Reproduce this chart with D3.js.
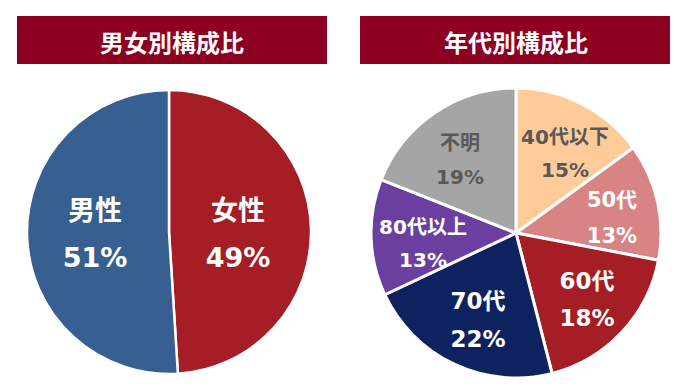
<!DOCTYPE html>
<html><head><meta charset="utf-8">
<script src="https://cdn.jsdelivr.net/npm/d3@7"></script>
<style>html,body{margin:0;padding:0;background:#fff;}svg{display:block;}</style>
</head><body>
<svg id="c" width="692" height="392"></svg>
<script>
const titles = ["男女別構成比", "年代別構成比"];
const genderCats = ["女性", "男性"];
const genderVals = [49, 51];
const genderColors = ["#A51D25", "#385F91"];
const genderText = ["#ffffff", "#ffffff"];
const ageCats = ["40代以下", "50代", "60代", "70代", "80代以上", "不明"];
const ageVals = [15, 13, 18, 22, 13, 19];
const ageColors = ["#FFCC99", "#D98484", "#A51D25", "#0F2260", "#6B3FA0", "#A5A5A5"];
const ageText = ["#595959", "#ffffff", "#ffffff", "#ffffff", "#ffffff", "#595959"];

const svg = d3.select("#c");
const FONT = "'DejaVu Sans','Noto Sans CJK JP',sans-serif";

// banners
const banners = [{x:17, w:310, cx:172}, {x:360, w:310, cx:516}];
banners.forEach((b,i)=>{
  svg.append("rect").attr("x",b.x).attr("y",16).attr("width",b.w).attr("height",48).attr("fill","#8C0021");
  svg.append("text").attr("x",b.cx).attr("y",41).attr("text-anchor","middle").attr("dominant-baseline","central")
    .attr("fill","#fff").attr("font-family","'Noto Sans CJK JP',sans-serif").attr("font-weight","bold")
    .attr("font-size",24).text(titles[i]);
});

function drawPie(cx, cy, r, cats, vals, colors, textColors, labels, strokeW){
  const pie = d3.pie().sort(null).value(d=>d)(vals);
  const arc = d3.arc().innerRadius(0).outerRadius(r);
  const g = svg.append("g").attr("transform",`translate(${cx},${cy})`);
  g.selectAll("path").data(pie).join("path").attr("d",arc)
    .attr("fill",(d,i)=>colors[i]).attr("stroke","#fff").attr("stroke-width",strokeW).attr("stroke-linejoin","round");
  pie.forEach((d,i)=>{
    const L = labels[i];
    const t = g.append("text").attr("text-anchor","middle").attr("fill",textColors[i])
      .attr("font-family",FONT).attr("font-weight","bold").attr("font-size",L.fs);
    t.append("tspan").attr("x",L.x).attr("y",L.y1).attr("dominant-baseline","central").text(cats[i]);
    t.append("tspan").attr("x",L.x).attr("y",L.y2).attr("dominant-baseline","central").text(vals[i]+"%");
  });
}

drawPie(169, 232, 142, genderCats, genderVals, genderColors, genderText,
  [{x:69, y1:-22, y2:25, fs:27}, {x:-74, y1:-22, y2:25, fs:27}], 2.5);

drawPie(516, 233, 145, ageCats, ageVals, ageColors, ageText,
  [{x:49, y1:-96, y2:-63, fs:20},
   {x:96, y1:-33, y2:3, fs:21},
   {x:71, y1:48, y2:85, fs:23},
   {x:-38, y1:68, y2:106, fs:23},
   {x:-93, y1:-6, y2:27, fs:20},
   {x:-56, y1:-90, y2:-56, fs:20}], 3);
</script>
</body></html>
